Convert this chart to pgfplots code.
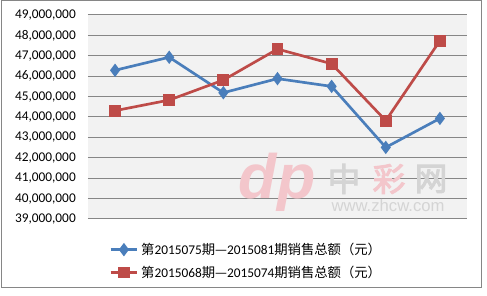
\documentclass[border=0pt]{standalone}
\usepackage{pgfplots}
\pgfplotsset{compat=1.18}
\usepackage{fontspec}
\setmainfont{Carlito}
\newfontfamily\cjk{Noto Sans CJK SC}
\newfontfamily\cjkwm[FakeBold=3]{Noto Sans CJK SC}
\newfontfamily\wm{Liberation Sans}
\definecolor{sblue}{HTML}{4A7EBB}
\definecolor{sred}{HTML}{BE4B48}
\definecolor{gridgray}{HTML}{868686}
\definecolor{plotbg}{HTML}{F2F2F2}
\definecolor{wmgray}{HTML}{D4D4D4}
\definecolor{wmpink}{HTML}{F3C6CB}
\begin{document}
\begin{tikzpicture}
\begin{scope}[x=0.75pt,y=0.75pt]
\path (0,0) rectangle (487,296);
\draw[color=gridgray, line width=0.75pt] (1,8) rectangle (481,295);
\fill[plotbg] (88,77) rectangle (467,281);
\end{scope}
\begin{axis}[
  at={(66pt,57.75pt)}, anchor=south west,
  scale only axis, width=284.25pt, height=153pt,
  xmin=-0.5, xmax=6.5,
  ymin=39000000, ymax=49000000,
  ytick={39000000,40000000,41000000,42000000,43000000,44000000,45000000,46000000,47000000,48000000,49000000},
  xtick=\empty,
  axis line style={draw=none},
  major tick length=0pt,
  ymajorgrids,
  grid style={color=gridgray, line width=0.75pt},
  scaled y ticks=false,
  yticklabel style={/pgf/number format/fixed, /pgf/number format/1000 sep={,}, /pgf/number format/assume math mode=true, font=\fontsize{10}{12}\selectfont, inner sep=0pt, xshift=-9pt},
  legend style={at={(0.045,-0.09)}, anchor=north west, draw=none, fill=none, font=\fontsize{10}{12}\selectfont, cells={anchor=west}, row sep=3pt},
  legend image code/.code={\draw[mark repeat=2,mark phase=2] plot coordinates {(0cm,0cm) (0.35cm,0cm) (0.7cm,0cm)};},
]
\addplot[color=sblue, line width=2pt, mark=diamond*, mark size=3.4pt, mark options={fill=sblue}] coordinates {
(0,46290000) (1,46930000) (2,45190000) (3,45880000) (4,45500000) (5,42510000) (6,43930000)};
\addlegendentry{{\cjk 第}2015075{\cjk 期—}2015081{\cjk 期销售总额（元）}}
\addplot[color=sred, line width=2pt, mark=square*, mark size=3.4pt, mark options={fill=sred}] coordinates {
(0,44310000) (1,44830000) (2,45810000) (3,47330000) (4,46610000) (5,43820000) (6,47740000)};
\addlegendentry{{\cjk 第}2015068{\cjk 期—}2015074{\cjk 期销售总额（元）}}
\end{axis}
\begin{scope}[x=0.75pt,y=0.75pt]
\node[font=\wm\bfseries\itshape\fontsize{47}{47}\selectfont, text=wmpink, inner sep=0pt] at (277,114) {dp};
\node[font=\cjkwm\fontsize{24.5}{24.5}\selectfont, text=wmgray, inner sep=0pt] at (344,117) {中};
\node[font=\cjkwm\fontsize{24.5}{24.5}\selectfont, text=wmpink, inner sep=0pt] at (389,117) {彩};
\node[font=\cjkwm\fontsize{24.5}{24.5}\selectfont, text=wmgray, inner sep=0pt] at (431,117) {网};
\node[font=\wm\fontsize{12.5}{13}\selectfont, text=wmgray, inner sep=0pt] at (388,90) {www.zhcw.com};
\end{scope}
\end{tikzpicture}
\end{document}
